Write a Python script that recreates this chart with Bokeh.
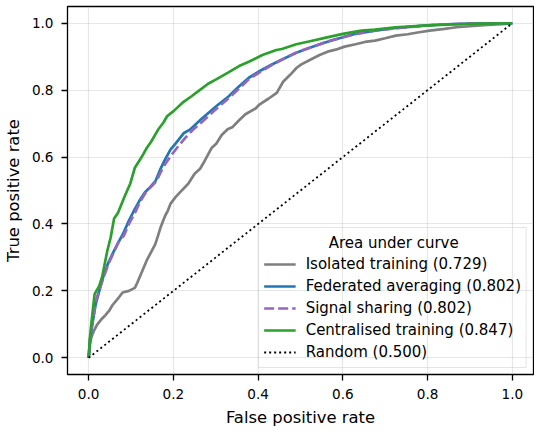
from bokeh.plotting import figure
from bokeh.models import Range1d, FixedTicker, Legend, LegendItem, Label
from bokeh.embed import file_html
from bokeh.resources import INLINE

# ---- data ----
iso_fpr = [0, 0.003, 0.006, 0.012, 0.02, 0.03, 0.04, 0.048, 0.056, 0.068, 0.08, 0.095, 0.109, 0.115,
           0.121, 0.13, 0.137, 0.147, 0.157, 0.163, 0.169, 0.176, 0.181, 0.187, 0.193, 0.205, 0.216,
           0.235, 0.25, 0.263, 0.274, 0.29, 0.301, 0.314, 0.328, 0.34, 0.355, 0.37, 0.394, 0.403,
           0.425, 0.444, 0.459, 0.475, 0.491, 0.502, 0.523, 0.545, 0.564, 0.583, 0.604, 0.63, 0.652,
           0.676, 0.7, 0.725, 0.753, 0.78, 0.805, 0.84, 0.868, 0.9, 0.942, 0.984, 1.0]
iso_tpr = [0, 0.04, 0.06, 0.08, 0.099, 0.115, 0.128, 0.14, 0.157, 0.175, 0.195, 0.2, 0.209, 0.225,
           0.243, 0.27, 0.291, 0.315, 0.339, 0.362, 0.387, 0.41, 0.426, 0.44, 0.46, 0.48, 0.495,
           0.52, 0.55, 0.565, 0.589, 0.627, 0.64, 0.666, 0.683, 0.69, 0.71, 0.728, 0.745, 0.757,
           0.775, 0.792, 0.825, 0.845, 0.867, 0.877, 0.891, 0.905, 0.915, 0.921, 0.93, 0.937, 0.944,
           0.948, 0.955, 0.963, 0.967, 0.973, 0.978, 0.983, 0.988, 0.991, 0.995, 0.998, 1.0]

fed_fpr = [0, 0.003, 0.006, 0.016, 0.032, 0.045, 0.056, 0.07, 0.081, 0.095, 0.105, 0.12, 0.133, 0.145,
           0.158, 0.168, 0.178, 0.193, 0.205, 0.225, 0.239, 0.266, 0.301, 0.33, 0.354, 0.378, 0.405,
           0.43, 0.459, 0.49, 0.525, 0.56, 0.6, 0.628, 0.676, 0.72, 0.765, 0.791, 0.845, 0.9, 1.0]
fed_tpr = [0, 0.05, 0.08, 0.157, 0.233, 0.28, 0.31, 0.345, 0.37, 0.41, 0.435, 0.47, 0.495, 0.51,
           0.529, 0.56, 0.587, 0.622, 0.64, 0.672, 0.682, 0.714, 0.752, 0.781, 0.81, 0.837, 0.858,
           0.875, 0.893, 0.912, 0.928, 0.943, 0.958, 0.968, 0.978, 0.985, 0.99, 0.993, 0.997, 0.999, 1.0]

sig_fpr = [0, 0.003, 0.007, 0.018, 0.034, 0.047, 0.058, 0.072, 0.083, 0.097, 0.108, 0.122, 0.135, 0.148,
           0.16, 0.17, 0.181, 0.196, 0.21, 0.23, 0.245, 0.27, 0.305, 0.333, 0.357, 0.38, 0.41, 0.435,
           0.462, 0.495, 0.53, 0.565, 0.605, 0.635, 0.68, 0.725, 0.77, 0.8, 0.85, 0.905, 1.0]
sig_tpr = [0, 0.055, 0.09, 0.175, 0.236, 0.282, 0.312, 0.35, 0.365, 0.405, 0.43, 0.468, 0.495, 0.512,
           0.528, 0.555, 0.58, 0.607, 0.63, 0.66, 0.68, 0.708, 0.748, 0.779, 0.807, 0.835, 0.858, 0.877,
           0.895, 0.915, 0.93, 0.946, 0.96, 0.969, 0.979, 0.985, 0.99, 0.994, 0.997, 0.999, 1.0]

cen_fpr = [0, 0.003, 0.006, 0.014, 0.025, 0.032, 0.044, 0.052, 0.06, 0.069, 0.085, 0.098, 0.109, 0.125,
           0.137, 0.147, 0.165, 0.177, 0.185, 0.201, 0.224, 0.242, 0.262, 0.282, 0.301, 0.330, 0.355,
           0.378, 0.41, 0.443, 0.456, 0.49, 0.525, 0.56, 0.6, 0.644, 0.675, 0.725, 0.791, 0.868, 0.93, 1.0]
cen_tpr = [0, 0.06, 0.099, 0.19, 0.215, 0.243, 0.32, 0.36, 0.416, 0.433, 0.483, 0.52, 0.568, 0.6,
           0.627, 0.645, 0.684, 0.704, 0.722, 0.738, 0.765, 0.781, 0.80, 0.819, 0.832, 0.853, 0.872,
           0.885, 0.905, 0.92, 0.923, 0.937, 0.947, 0.957, 0.968, 0.978, 0.981, 0.988, 0.993, 0.997, 0.999, 1.0]

rand_fpr = [0.0, 1.0]
rand_tpr = [0.0, 1.0]

series_labels = ["Isolated training (0.729)", "Federated averaging (0.802)",
                 "Signal sharing (0.802)", "Centralised training (0.847)", "Random (0.500)"]
legend_title = "Area under curve"
tick_values = [0.0, 0.2, 0.4, 0.6, 0.8, 1.0]
tick_labels = ["0.0", "0.2", "0.4", "0.6", "0.8", "1.0"]
x_label = "False positive rate"
y_label = "True positive rate"

FONT = "DejaVu Sans"

p = figure(width=534, height=429, output_backend="svg", toolbar_location=None,
           x_range=Range1d(-0.05, 1.05), y_range=Range1d(-0.05, 1.05),
           min_border_top=6, min_border_right=1, min_border_left=66, min_border_bottom=0)
p.background_fill_color = "white"
p.border_fill_color = "white"
p.outline_line_color = "black"
p.outline_line_width = 1.3
p.outline_line_alpha = 1.0

for ax in (p.xaxis[0], p.yaxis[0]):
    ax.ticker = FixedTicker(ticks=tick_values)
    ax.major_label_overrides = {v: l for v, l in zip(tick_values, tick_labels)}
    ax.axis_line_color = None
    ax.major_tick_in = 0
    ax.major_tick_out = 6
    ax.major_tick_line_width = 1.3
    ax.major_tick_line_color = "black"
    ax.minor_tick_line_color = None
    ax.major_label_text_font = FONT
    ax.major_label_text_font_size = "13.6px"
    ax.major_label_text_color = "black"
    ax.axis_label_text_font = FONT
    ax.axis_label_text_font_size = "16.4px"
    ax.axis_label_text_font_style = "normal"
    ax.axis_label_text_color = "black"

p.xaxis.axis_label = x_label
p.yaxis.axis_label = y_label
p.xaxis.major_label_standoff = 8
p.yaxis.major_label_standoff = 8
p.xaxis.axis_label_standoff = 6
p.yaxis.axis_label_standoff = 6

for g in (p.xgrid[0], p.ygrid[0]):
    g.ticker = FixedTicker(ticks=tick_values)
    g.grid_line_color = "#b0b0b0"
    g.grid_line_alpha = 0.3
    g.grid_line_width = 1.2

lw = 2.7
r_iso = p.line(iso_fpr, iso_tpr, line_color="#7f7f7f", line_width=lw)
r_fed = p.line(fed_fpr, fed_tpr, line_color="#1f77b4", line_width=lw)
r_sig = p.line(sig_fpr, sig_tpr, line_color="#9467bd", line_width=lw, line_dash="10 4")
r_cen = p.line(cen_fpr, cen_tpr, line_color="#2ca02c", line_width=lw)
r_rnd = p.line(rand_fpr, rand_tpr, line_color="black", line_width=1.8, line_dash="2 3")

renderers = [r_iso, r_fed, r_sig, r_cen, r_rnd]
items = [LegendItem(label=l, renderers=[r]) for l, r in zip(series_labels, renderers)]
legend = Legend(items=items, location="bottom_right", title=legend_title)
legend.margin = 6
legend.padding = 5
legend.spacing = 2
legend.glyph_width = 32
legend.glyph_height = 20
legend.label_height = 20
legend.label_standoff = 10
legend.label_text_font = FONT
legend.label_text_font_size = "15px"
legend.label_text_color = "black"
legend.title_text_font = FONT
legend.title_text_font_size = "15px"
legend.title_text_font_style = "normal"
legend.title_text_alpha = 0.0   # reserved space; centred title drawn as a label
legend.title_standoff = 3
legend.border_line_color = "#cccccc"
legend.border_line_width = 1
legend.background_fill_alpha = 0.0
p.add_layout(legend, "center")

title_label = Label(x=0.72, y=0.342, text=legend_title, text_align="center",
                    text_baseline="middle", text_font=FONT, text_font_size="15px",
                    text_color="black", level="overlay")
p.add_layout(title_label)

open("out.html", "w").write(file_html(p, INLINE))
